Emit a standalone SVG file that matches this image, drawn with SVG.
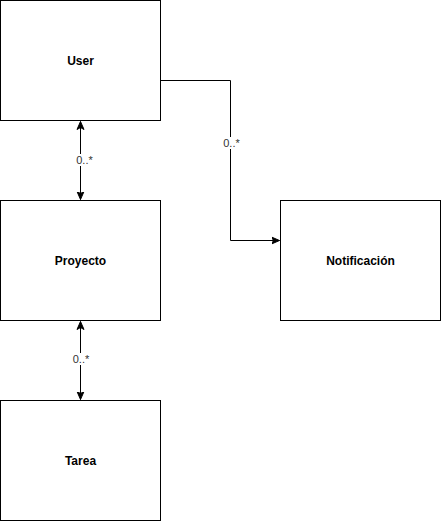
<svg xmlns="http://www.w3.org/2000/svg" width="441" height="521" viewBox="0 0 441 521">
<style>
.box{fill:#fff;stroke:#000;stroke-width:1}
.t{font-family:"Liberation Sans",Arial,sans-serif;font-size:12px;font-weight:bold;fill:#000;text-anchor:middle;dominant-baseline:central}
.edge{fill:none;stroke:#000;stroke-width:1}
.lbl{font-family:"Liberation Sans",Arial,sans-serif;font-size:11px;fill:#333;text-anchor:middle;dominant-baseline:central}
.lblbg{fill:#fff}
</style>
<defs>
<marker id="arr" markerWidth="10" markerHeight="10" refX="8" refY="5" orient="auto-start-reverse" markerUnits="userSpaceOnUse">
<path d="M0,1.5 L8,5 L0,8.5 L2,5 Z" fill="#000" stroke="#000" stroke-width="1"/>
</marker>
</defs>
<rect width="441" height="521" fill="#fff"/>
<g id="edges">
<path class="edge" d="M160.5,80.5 H230.5 V240.5 H279.5" marker-end="url(#arr)"/>
<rect class="lblbg" x="222" y="137" width="19" height="12"/>
<text class="lbl" x="231.5" y="143">0..*</text>
<path class="edge" d="M80.5,121.5 V199.5" marker-start="url(#arr)" marker-end="url(#arr)"/>
<rect class="lblbg" x="74" y="154" width="21" height="12"/>
<text class="lbl" x="84.5" y="160">0..*</text>
<path class="edge" d="M80.5,321.5 V399.5" marker-start="url(#arr)" marker-end="url(#arr)"/>
<rect class="lblbg" x="71" y="353" width="20" height="12"/>
<text class="lbl" x="81" y="359">0..*</text>
</g>
<g id="user"><rect class="box" x="0.5" y="0.5" width="160" height="120"/><text class="t" x="80.5" y="60.5">User</text></g>
<g id="proyecto"><rect class="box" x="0.5" y="200.5" width="160" height="120"/><text class="t" x="80.5" y="260.5">Proyecto</text></g>
<g id="tarea"><rect class="box" x="0.5" y="400.5" width="160" height="120"/><text class="t" x="80.5" y="460.5">Tarea</text></g>
<g id="notificacion"><rect class="box" x="280.5" y="200.5" width="160" height="120"/><text class="t" x="360.5" y="260.5">Notificación</text></g>
</svg>
